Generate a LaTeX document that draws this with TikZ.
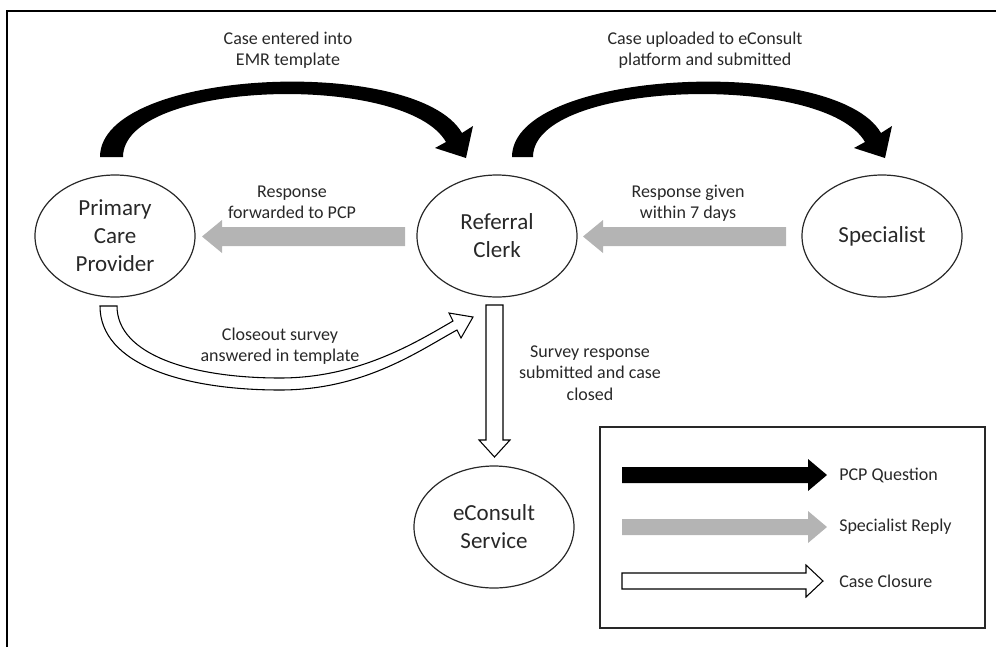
\documentclass[tikz,border=0pt]{standalone}
\usepackage{fontspec}
\setmainfont{Carlito}
\usetikzlibrary{shapes.geometric}
\definecolor{arrgray}{RGB}{180,180,180}
\definecolor{ink}{RGB}{40,40,40}
\begin{document}
\begin{tikzpicture}[x=0.75pt,y=-0.75pt,
  actor/.style={ellipse, draw=ink, line width=0.9pt, inner sep=0pt,
    minimum width=120pt, minimum height=91.5pt, align=center,
    font=\fontsize{17.25}{21}\selectfont, text=ink},
  lbl/.style={align=center, font=\fontsize{13.5}{16}\selectfont, text=ink, inner sep=0pt},
  leg/.style={anchor=west, font=\fontsize{13.5}{16}\selectfont, text=ink, inner sep=0pt},
  blk/.style={fill=black, draw=none},
  gry/.style={fill=arrgray, draw=none},
  wht/.style={fill=white, draw=black, line width=0.8pt, line join=miter},
]
\useasboundingbox (0,0) rectangle (996,647);
% frame
\draw[line width=1.8pt] (7,647) -- (7,11) -- (996,11);

% actors
\node[actor] (pcp) at (115,236) {Primary\\Care\\Provider};
\node[actor] (rc) at (497,236) {Referral\\Clerk};
\node[actor] (sp) at (882,236) {Specialist};
\node[actor] (ec) at (494,527) {eConsult\\Service};

% black curved arrows (PCP question)
\fill[blk] (100,157) .. controls (100,68) and (417,55) .. (462,133)
  -- (473,126) -- (466,158) -- (435,148) -- (446,142)
  .. controls (406,72) and (123,80) .. (123,157) -- cycle;
\fill[blk] (512,157) .. controls (512,68) and (836,55) .. (881,133)
  -- (892,126) -- (885,158) -- (854,148) -- (865,142)
  .. controls (825,72) and (533,80) .. (533,157) -- cycle;

% gray arrows (specialist reply)
\fill[gry] (405,227) -- (222,227) -- (222,220) -- (202,236.5) -- (222,253) -- (222,246) -- (405,246) -- cycle;
\fill[gry] (786,227) -- (603,227) -- (603,220) -- (583,236.5) -- (603,253) -- (603,246) -- (786,246) -- cycle;

% white arrows (case closure)
\draw[wht] (100,306) .. controls (100,365) and (185,390) .. (280,390)
  .. controls (365,390) and (420,350) .. (457,330)
  -- (461,338) -- (473,317) -- (449,313) -- (453,321)
  .. controls (415,343) and (358,378) .. (280,378)
  .. controls (192,378) and (117,355) .. (117,306) -- cycle;
\draw[wht] (486,305) -- (503,305) -- (503,440) -- (510,440) -- (494.5,457) -- (479,440) -- (486,440) -- cycle;

% labels
\node[lbl] (l1) at (288,50) {Case entered into\\EMR template};
\node[lbl] (l2) at (705,50) {Case uploaded to eConsult\\platform and submitted};
\node[lbl] (l3) at (292,202) {Response\\forwarded to PCP};
\node[lbl] (l4) at (688,203) {Response given\\within 7 days};
\node[lbl] (l5) at (280,346) {Closeout survey\\answered in template};
\node[lbl] (l6) at (590,373) {Survey response\\submitted and case\\closed};

% legend
\draw[draw=ink, line width=0.9pt] (600,427) rectangle (985,628);
\fill[blk] (622,467) -- (808,467) -- (808,459) -- (827,475) -- (808,491) -- (808,483) -- (622,483) -- cycle;
\fill[gry] (622,519) -- (808,519) -- (808,511) -- (827,527) -- (808,543) -- (808,535) -- (622,535) -- cycle;
\draw[wht] (622,573) -- (806,573) -- (806,565) -- (823,581) -- (806,597) -- (806,589) -- (622,589) -- cycle;
\node[leg] (t1) at (839,475) {PCP Question};
\node[leg] (t2) at (839,527) {Specialist Reply};
\node[leg] (t3) at (839,581) {Case Closure};
\end{tikzpicture}
\end{document}
